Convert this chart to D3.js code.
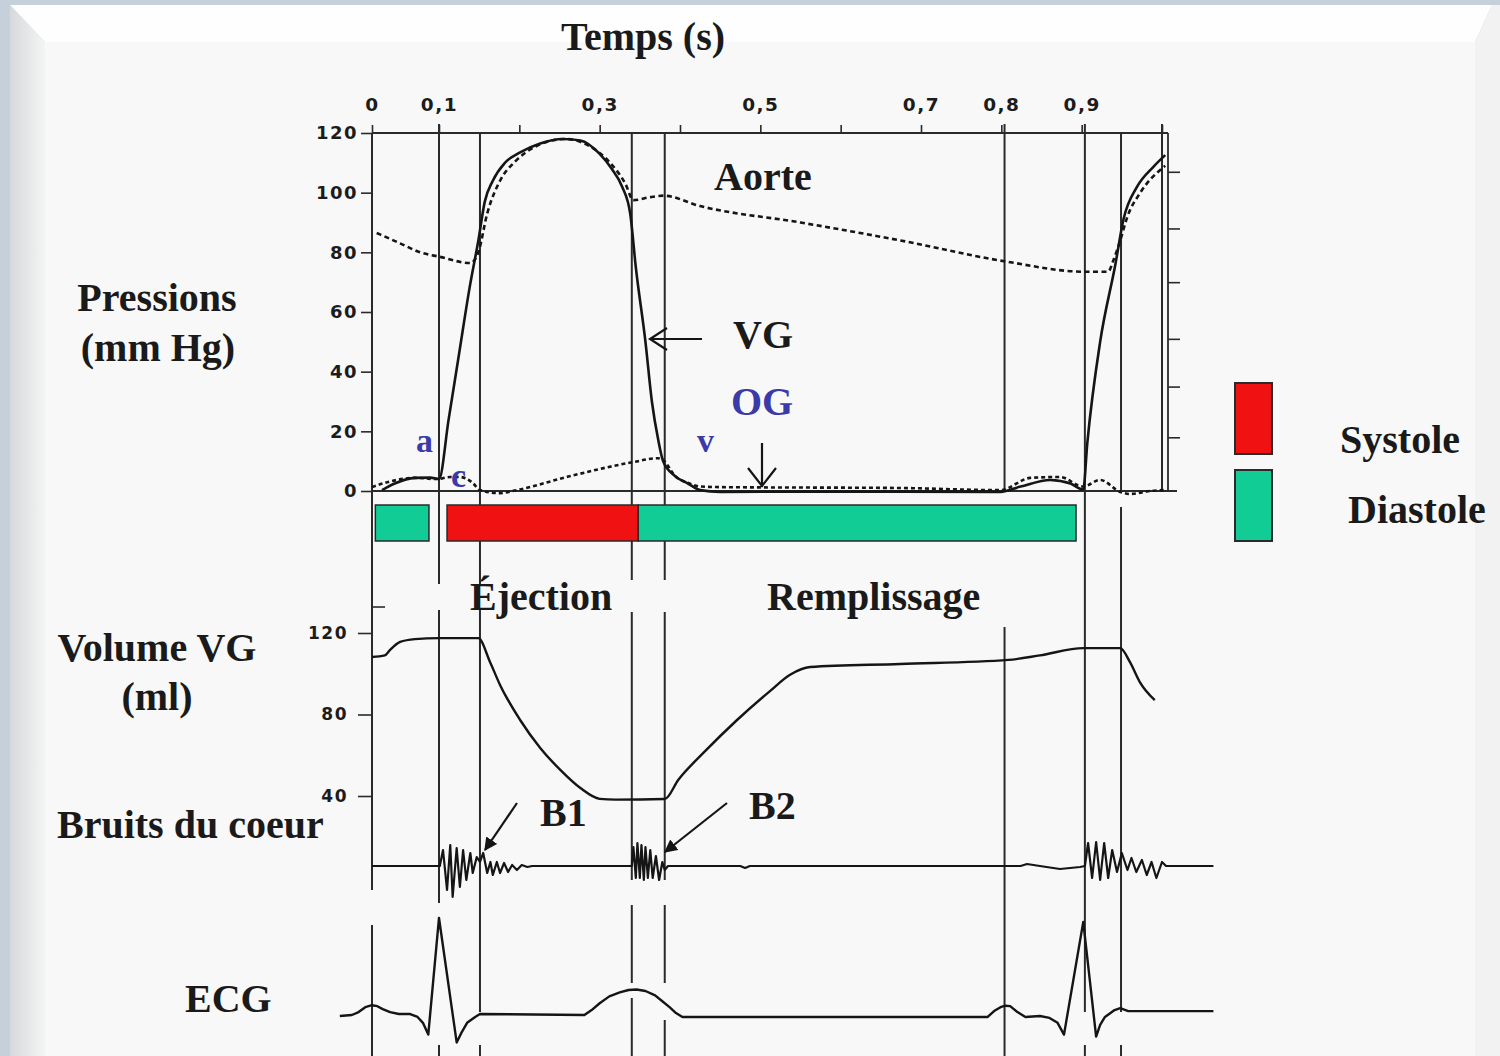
<!DOCTYPE html>
<html>
<head>
<meta charset="UTF-8">
<title>Cycle cardiaque</title>
<script src="https://d3js.org/d3.v7.min.js"></script>
<style>
body { margin: 0; background: #c5d0da; }
svg { display: block; }
</style>
</head>
<body>
<script>
// --- données (temps en s) ---
var timeTicks = [0, 0.1, 0.2, 0.3, 0.4, 0.5, 0.6, 0.7, 0.8, 0.9, 1.0];
var timeLabels = ["0", "0,1", "", "0,3", "", "0,5", "", "0,7", "0,8", "0,9", ""];
var pressureTicks = [0, 20, 40, 60, 80, 100, 120];
var pressureRightTicks = [18, 35, 51, 70, 88, 107];
var volumeTicks = [40, 80, 120];
var volumeMinorTicks = [133];

// pression ventricule gauche (mm Hg)
var vgPressure = [[0.015,0.3],[0.034,2.5],[0.064,4.4],[0.087,4.5],[0.1,4],[0.112,24],[0.125,46],[0.138,68],
  [0.149,84],[0.157,97],[0.167,104],[0.182,110],[0.201,113.5],[0.226,116.5],[0.254,118],[0.276,117.5],
  [0.300,113],[0.315,108],[0.328,102],[0.338,93],[0.345,75],[0.357,50],[0.365,30],[0.373,17],[0.379,10],
  [0.394,5],[0.410,2.5],[0.425,0.3],[0.45,-0.3],[0.55,-0.2],[0.674,-0.2],[0.799,-0.3],[0.824,1.5],
  [0.861,3.7],[0.886,2.5],[0.902,0.5],[0.907,16],[0.923,50],[0.942,76],[0.952,91],[0.969,102],
  [0.989,108.6],[1.004,112.6]];
// pression aortique
var aortaPressure = [[0.007,86.5],[0.042,83],[0.072,80],[0.101,78.5],[0.139,76.4],[0.149,80],[0.160,93],
  [0.176,104],[0.195,110.5],[0.217,115],[0.257,118],[0.288,115.5],[0.313,110],[0.332,103],[0.342,97.5],
  [0.363,98.5],[0.379,99],[0.425,95.5],[0.550,90],[0.674,84],[0.804,77],[0.904,73.5],[0.933,73.5],
  [0.939,77],[0.948,84],[0.957,92],[0.973,100],[1.004,109]];
// pression oreillette gauche
var ogPressure = [[0,1.3],[0.027,3.2],[0.064,4.4],[0.097,4],[0.114,4.7],[0.126,4.7],[0.142,2.7],[0.151,0.3],
  [0.176,-0.7],[0.197,0.3],[0.259,4.7],[0.342,9.7],[0.372,11],[0.379,10.4],[0.394,5],[0.410,2.7],
  [0.425,1.5],[0.45,1.3],[0.674,1],[0.799,0.3],[0.836,4.4],[0.873,4.7],[0.902,1.5],[0.923,3.7],
  [0.948,-0.3],[0.960,-1],[0.985,0],[1.004,0.3]];

// phases
var phaseStart = [0.005, 0.11, 0.348];
var phaseEnd = [0.085, 0.348, 0.893];
var phaseType = ["Diastole", "Systole", "Diastole"];

// volume VG (ml)
var volumeVG = [[0,108.2],[0.019,109],[0.027,111.7],[0.042,115.6],[0.064,117],[0.1,117.5],[0.149,117.5],
  [0.1635,105.8],[0.176,94.5],[0.201,77.3],[0.226,63.6],[0.251,52.8],[0.276,43.9],[0.300,38.6],[0.320,38.2],
  [0.381,38.5],[0.398,48],[0.430,61.5],[0.471,77.3],[0.512,91.5],[0.537,99.5],[0.562,103.3],
  [0.674,104.8],[0.809,106.8],[0.848,109],[0.902,112.6],[0.948,112.6],[0.960,105.8],[0.973,95.5],[0.991,87]];

// bruits du coeur (amplitude arbitraire)
var heartSounds = [[0,0],[0.101,0],[0.105,0.64],[0.110,-0.96],[0.114,0.84],[0.117,-1.24],[0.122,0.72],
  [0.126,-0.84],[0.130,0.64],[0.134,-0.56],[0.139,0.52],[0.142,-0.28],[0.147,0.36],[0.151,0.16],
  [0.155,0.52],[0.160,-0.28],[0.164,0.16],[0.167,-0.36],[0.172,0.16],[0.176,-0.28],[0.181,0.12],
  [0.186,-0.24],[0.191,0.04],[0.197,-0.16],[0.203,0.04],[0.210,-0.04],[0.216,0],[0.340,0],
  [0.342,0.76],[0.345,-0.48],[0.347,0.92],[0.350,-0.48],[0.352,0.84],[0.355,-0.56],[0.357,0.76],
  [0.360,-0.48],[0.363,0.64],[0.366,-0.48],[0.370,0.4],[0.374,-0.56],[0.378,0.16],[0.381,-0.16],
  [0.385,0],[0.475,0],[0.481,-0.08],[0.487,0],[0.824,0],[0.832,0.08],[0.848,0],[0.873,-0.12],
  [0.898,-0.04],[0.904,0],[0.908,0.92],[0.913,-0.48],[0.918,0.96],[0.923,-0.56],[0.928,0.92],
  [0.933,-0.48],[0.938,0.64],[0.944,-0.24],[0.950,0.52],[0.957,-0.16],[0.962,0.32],[0.968,-0.24],
  [0.975,0.24],[0.981,-0.36],[0.987,0.16],[0.993,-0.48],[1.000,0.16],[1.005,0],[1.064,0]];

// ECG (mV)
var ecg = [[-0.048,-0.01],[-0.030,0.0],[-0.020,0.03],[-0.010,0.08],[0,0.10],[0.008,0.09],[0.016,0.06],
  [0.027,0.03],[0.040,0.01],[0.057,0.01],[0.068,-0.02],[0.076,-0.08],[0.084,-0.20],[0.100,0.99],
  [0.122,-0.28],[0.128,-0.18],[0.135,-0.08],[0.145,-0.02],[0.151,0.01],[0.281,0],[0.290,0.05],
  [0.300,0.12],[0.312,0.19],[0.325,0.23],[0.336,0.255],[0.346,0.26],[0.357,0.245],[0.369,0.20],
  [0.378,0.14],[0.387,0.08],[0.395,0.02],[0.403,-0.02],[0.783,-0.02],[0.791,0.04],[0.799,0.08],
  [0.805,0.095],[0.811,0.09],[0.820,0.03],[0.830,-0.02],[0.848,-0.01],[0.860,-0.03],[0.870,-0.08],
  [0.878,-0.20],[0.902,0.95],[0.918,-0.22],[0.923,-0.10],[0.929,-0.02],[0.941,0.05],[0.948,0.07],
  [0.958,0.04],[1.064,0.04]];

// repères verticaux (s)
var markerTimes = [0, 0.1, 0.151, 0.340, 0.381, 0.804, 0.904, 0.949, 1.0];

// --- mise en page ---
var W = 1500, H = 1056;
var serif = "'Liberation Serif', 'Times New Roman', serif";
var sans = "'DejaVu Sans', Arial, sans-serif";
var ink = "#151515";

var svg = d3.select("body").append("svg").attr("width", W).attr("height", H);

// fond et cadre biseauté
var defs = svg.append("defs");
var grad = defs.append("linearGradient").attr("id", "bevel");
grad.append("stop").attr("offset", "0%").attr("stop-color", "#d6d9dc");
grad.append("stop").attr("offset", "100%").attr("stop-color", "#f4f4f4");
svg.append("rect").attr("width", W).attr("height", H).attr("fill", "#c5d0da");
svg.append("polygon").attr("points", "10,5 1492,5 1475,42 45,42").attr("fill", "#fefefe");
svg.append("polygon").attr("points", "10,5 45,42 45,1056 10,1056").attr("fill", "url(#bevel)");
svg.append("polygon").attr("points", "1492,5 1500,5 1500,1056 1475,1056 1475,42").attr("fill", "#f2f2f2");
svg.append("rect").attr("x", 45).attr("y", 42).attr("width", 1430).attr("height", 1014).attr("fill", "#f8f8f8");

defs.append("marker").attr("id", "tri").attr("viewBox", "0 0 10 10").attr("refX", 9).attr("refY", 5)
  .attr("markerWidth", 6).attr("markerHeight", 6).attr("orient", "auto")
  .append("path").attr("d", "M0,0 L10,5 L0,10 z").attr("fill", ink);

// échelles
var x = d3.scaleLinear().domain([0, 0.1, 1]).range([372, 439, 1162]);
var yP = d3.scaleLinear().domain([0, 120]).range([491, 133]);
var yV = d3.scaleLinear().domain([40, 120]).range([796, 633]);
var yH = d3.scaleLinear().domain([-1, 1]).range([891, 841]);
var yE = d3.scaleLinear().domain([0, 1]).range([1015, 917]);

// repères verticaux (segments en pixels, interrompus comme sur la figure)
var guideSegments = [
  [[133, 890], [925, 1056]],
  [[124, 584], [610, 903], [1045, 1056]],
  [[133, 584], [610, 1012], [1045, 1056]],
  [[133, 580], [612, 880], [905, 983], [998, 1056]],
  [[133, 580], [612, 880], [905, 983], [1020, 1056]],
  [[124, 491], [627, 1056]],
  [[124, 1012], [1045, 1056]],
  [[133, 491], [507, 1012], [1045, 1056]],
  [[124, 491]]
];
var guides = svg.append("g").attr("stroke", "#2a2a2a").attr("stroke-width", 2);
markerTimes.forEach(function(t, i) {
  guideSegments[i].forEach(function(s) {
    guides.append("line").attr("x1", x(t)).attr("x2", x(t)).attr("y1", s[0]).attr("y2", s[1]);
  });
});

// cadre du panneau des pressions
var frame = svg.append("g").attr("stroke", "#2a2a2a").attr("stroke-width", 1.8).attr("fill", "none");
frame.append("line").attr("x1", 372).attr("x2", 1168).attr("y1", yP(120)).attr("y2", yP(120));
frame.append("line").attr("x1", 372).attr("x2", 1177).attr("y1", yP(0)).attr("y2", yP(0));
frame.append("line").attr("x1", 1168).attr("x2", 1168).attr("y1", yP(120)).attr("y2", yP(0));

function styleAxis(g, size) {
  g.select(".domain").remove();
  g.selectAll("line").attr("stroke", "#2a2a2a").attr("stroke-width", 1.6);
  g.selectAll("text").attr("font-family", sans).attr("font-weight", "bold")
    .attr("font-size", size).attr("fill", "#1c1c1c").style("letter-spacing", "1.5px");
}

svg.append("g").attr("transform", "translate(0," + yP(120) + ")")
  .call(d3.axisTop(x).tickValues(timeTicks).tickSize(8).tickPadding(14)
    .tickFormat(function(d, i) { return timeLabels[i]; }))
  .call(styleAxis, 18.5);

svg.append("g").attr("transform", "translate(372,0)")
  .call(d3.axisLeft(yP).tickValues(pressureTicks).tickSize(11).tickPadding(3))
  .call(styleAxis, 18);

svg.append("g").attr("transform", "translate(1168,0)")
  .call(d3.axisRight(yP).tickValues(pressureRightTicks).tickSize(12).tickFormat(""))
  .call(styleAxis, 18);

svg.append("g").attr("transform", "translate(372,0)")
  .call(d3.axisLeft(yV).tickValues(volumeTicks).tickSize(14).tickPadding(10))
  .call(styleAxis, 17);

svg.append("g").attr("transform", "translate(372,0)")
  .call(d3.axisRight(yV).tickValues(volumeMinorTicks).tickSize(13).tickFormat(""))
  .call(styleAxis, 17);

// barre des phases
var phaseColor = { Systole: "#f01212", Diastole: "#12cc96" };
svg.append("g").selectAll("rect").data(phaseType).enter().append("rect")
  .attr("x", function(d, i) { return x(phaseStart[i]); })
  .attr("width", function(d, i) { return x(phaseEnd[i]) - x(phaseStart[i]); })
  .attr("y", 505).attr("height", 36)
  .attr("fill", function(d) { return phaseColor[d]; })
  .attr("stroke", "#2a2a2a").attr("stroke-width", 1.5);

// courbes
function curveLine(yScale, curve) {
  return d3.line().x(function(d) { return x(d[0]); }).y(function(d) { return yScale(d[1]); }).curve(curve);
}
function draw(data, gen, dash, width) {
  svg.append("path").datum(data).attr("d", gen).attr("fill", "none")
    .attr("stroke", ink).attr("stroke-width", width || 2.6)
    .attr("stroke-dasharray", dash || null).attr("stroke-linejoin", "round");
}
draw(aortaPressure, curveLine(yP, d3.curveMonotoneX), "5,3.5", 2.6);
draw(ogPressure, curveLine(yP, d3.curveMonotoneX), "4,3", 2.6);
draw(vgPressure, curveLine(yP, d3.curveMonotoneX), null, 2.6);
draw(volumeVG, curveLine(yV, d3.curveMonotoneX), null, 2.4);
draw(heartSounds, curveLine(yH, d3.curveLinear), null, 2.2);
draw(ecg, curveLine(yE, d3.curveLinear), null, 2.4);

// flèches
var arrows = svg.append("g").attr("stroke", ink).attr("stroke-width", 2.2).attr("fill", "none");
arrows.append("path").attr("d", "M702,339 L650,339 M667,328 L650,339 L667,350");
arrows.append("path").attr("d", "M762,443 L762,487 M748,468 L762,486 L776,468");
arrows.append("line").attr("x1", 517).attr("y1", 803).attr("x2", 485).attr("y2", 850).attr("marker-end", "url(#tri)");
arrows.append("line").attr("x1", 727).attr("y1", 803).attr("x2", 665).attr("y2", 852).attr("marker-end", "url(#tri)");

// textes
function label(txt, px, py, opts) {
  opts = opts || {};
  svg.append("text").attr("x", px).attr("y", py).text(txt)
    .attr("font-family", serif).attr("font-weight", "bold")
    .attr("font-size", opts.size || 40)
    .attr("text-anchor", opts.anchor || "start")
    .attr("fill", opts.color || "#1a1a1a");
}
var blue = "#3a3aa8";
label("Temps (s)", 643, 50, { anchor: "middle" });
label("Pressions", 157, 311, { anchor: "middle", size: 40 });
label("(mm Hg)", 158, 361, { anchor: "middle", size: 40 });
label("Aorte", 714, 190);
label("VG", 733, 348);
label("OG", 731, 415, { color: blue });
label("a", 416, 452, { size: 34, color: blue });
label("c", 451, 487, { size: 34, color: blue });
label("v", 697, 452, { size: 34, color: blue });
label("Éjection", 470, 610);
label("Remplissage", 767, 610);
label("Volume VG", 157, 661, { anchor: "middle" });
label("(ml)", 157, 710, { anchor: "middle" });
label("Bruits du coeur", 57, 838);
label("B1", 540, 826);
label("B2", 749, 819);
label("ECG", 185, 1012);

// légende
var legendY = [383, 470];
var legend = svg.append("g").selectAll("g").data(["Systole", "Diastole"]).enter().append("g");
legend.append("rect").attr("x", 1235).attr("y", function(d, i) { return legendY[i]; })
  .attr("width", 37).attr("height", 71)
  .attr("fill", function(d) { return phaseColor[d]; })
  .attr("stroke", "#2a2a2a").attr("stroke-width", 2);
label("Systole", 1340, 453);
label("Diastole", 1348, 523);
</script>
</body>
</html>
